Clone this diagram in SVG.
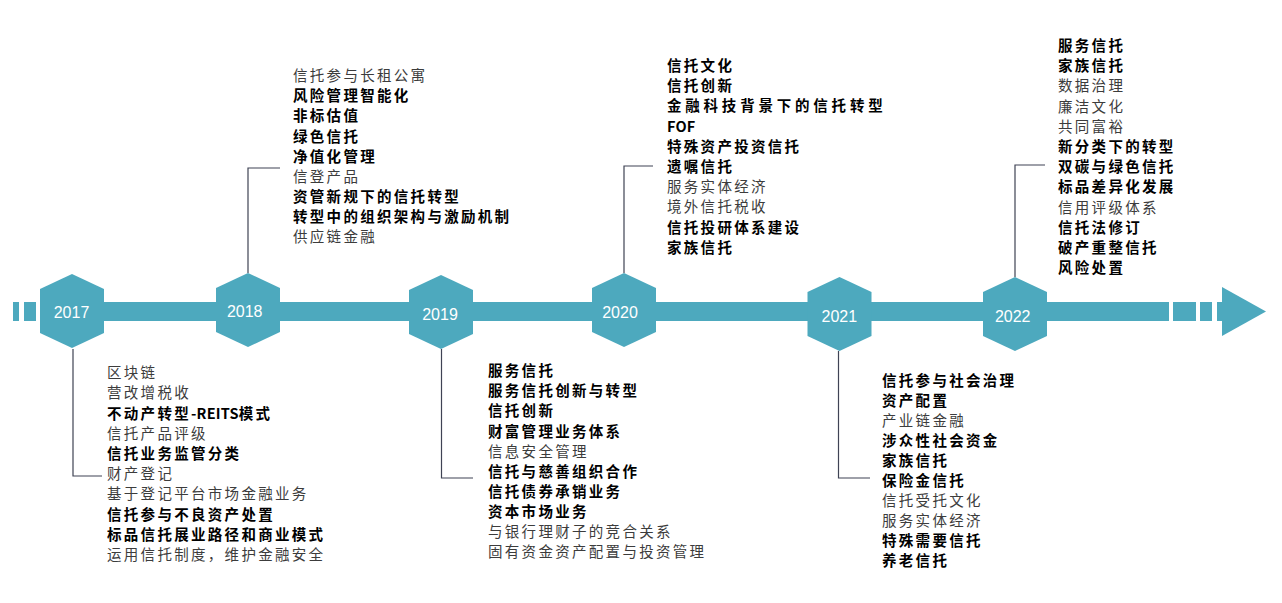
<svg xmlns="http://www.w3.org/2000/svg" width="1282" height="603" viewBox="0 0 1282 603">
<defs>
<style>
.bar{fill:#4da9be}
.hex{fill:#4da9be}
.yr{font-family:"Liberation Sans",Arial,sans-serif;font-size:16px;fill:#ffffff;text-anchor:middle}
.t{font-family:"Noto Sans CJK SC","Noto Sans",sans-serif;font-size:14.5px;letter-spacing:2.3px}
.n{fill:#3c3c3c;font-weight:400}
.b{fill:#000000;font-weight:700}
.lat{letter-spacing:0.2px}
.con{fill:none;stroke:#3f4354;stroke-width:1.2}
</style>
<polygon id="hexshape" points="0,0 32,15 32,59 0,74 -32,59 -32,15"/>
</defs>
<rect width="1282" height="603" fill="#ffffff"/>
<g id="timeline">
<rect class="bar" x="13" y="302" width="6" height="19"/>
<rect class="bar" x="24" y="302" width="12" height="19"/>
<rect class="bar" x="40" y="302" width="1129" height="19"/>
<rect class="bar" x="1173" y="302" width="23" height="19"/>
<rect class="bar" x="1200" y="302" width="12" height="19"/>
<rect class="bar" x="1217" y="302" width="7" height="19"/>
<polygon class="bar" points="1222,287 1266,311.5 1222,336"/>
</g>
<g id="connectors">
<polyline class="con" points="73,349 73,476 102,476"/>
<polyline class="con" points="248,273 248,168 280,168"/>
<polyline class="con" points="441.5,349 441.5,478 473,478"/>
<polyline class="con" points="624,273 624,166 653,166"/>
<polyline class="con" points="838.5,351 838.5,478 870,478"/>
<polyline class="con" points="1015,277 1015,165 1045,165"/>
</g>
<g id="node-2017">
<use href="#hexshape" class="hex" x="72" y="274"/>
<text class="yr" x="71.5" y="318.4">2017</text>
<text class="t" x="107" y="378.2">
<tspan class="n" x="107" dy="0">区块链</tspan>
<tspan class="n" x="107" dy="20.2">营改增税收</tspan>
<tspan class="b" x="107" dy="20.2">不动产转型<tspan class="lat">-REITS</tspan>模式</tspan>
<tspan class="n" x="107" dy="20.2">信托产品评级</tspan>
<tspan class="b" x="107" dy="20.2">信托业务监管分类</tspan>
<tspan class="n" x="107" dy="20.2">财产登记</tspan>
<tspan class="n" x="107" dy="20.2">基于登记平台市场金融业务</tspan>
<tspan class="b" x="107" dy="20.2">信托参与不良资产处置</tspan>
<tspan class="b" x="107" dy="20.2">标品信托展业路径和商业模式</tspan>
<tspan class="n" x="107" dy="20.2">运用信托制度，维护金融安全</tspan>
</text>
</g>
<g id="node-2018">
<use href="#hexshape" class="hex" x="248" y="273"/>
<text class="yr" x="244.7" y="317.4">2018</text>
<text class="t" x="293" y="81.2">
<tspan class="n" x="293" dy="0">信托参与长租公寓</tspan>
<tspan class="b" x="293" dy="20.1">风险管理智能化</tspan>
<tspan class="b" x="293" dy="20.1">非标估值</tspan>
<tspan class="b" x="293" dy="20.1">绿色信托</tspan>
<tspan class="b" x="293" dy="20.1">净值化管理</tspan>
<tspan class="n" x="293" dy="20.1">信登产品</tspan>
<tspan class="b" x="293" dy="20.1">资管新规下的信托转型</tspan>
<tspan class="b" x="293" dy="20.1">转型中的组织架构与激励机制</tspan>
<tspan class="n" x="293" dy="20.1">供应链金融</tspan>
</text>
</g>
<g id="node-2019">
<use href="#hexshape" class="hex" x="441" y="275"/>
<text class="yr" x="440" y="319.7">2019</text>
<text class="t" x="488" y="376.2">
<tspan class="b" x="488" dy="0">服务信托</tspan>
<tspan class="b" x="488" dy="20.1">服务信托创新与转型</tspan>
<tspan class="b" x="488" dy="20.1">信托创新</tspan>
<tspan class="b" x="488" dy="20.1">财富管理业务体系</tspan>
<tspan class="n" x="488" dy="20.1">信息安全管理</tspan>
<tspan class="b" x="488" dy="20.1">信托与慈善组织合作</tspan>
<tspan class="b" x="488" dy="20.1">信托债券承销业务</tspan>
<tspan class="b" x="488" dy="20.1">资本市场业务</tspan>
<tspan class="n" x="488" dy="20.1">与银行理财子的竞合关系</tspan>
<tspan class="n" x="488" dy="20.1">固有资金资产配置与投资管理</tspan>
</text>
</g>
<g id="node-2020">
<use href="#hexshape" class="hex" x="624" y="273"/>
<text class="yr" x="620" y="318">2020</text>
<text class="t" x="667" y="71">
<tspan class="b" x="667" dy="0">信托文化</tspan>
<tspan class="b" x="667" dy="20.2">信托创新</tspan>
<tspan class="b" x="667" dy="20.2" textLength="218" lengthAdjust="spacing">金融科技背景下的信托转型</tspan>
<tspan class="b lat" x="667" dy="20.2">FOF</tspan>
<tspan class="b" x="667" dy="20.2">特殊资产投资信托</tspan>
<tspan class="b" x="667" dy="20.2">遗嘱信托</tspan>
<tspan class="n" x="667" dy="20.2">服务实体经济</tspan>
<tspan class="n" x="667" dy="20.2">境外信托税收</tspan>
<tspan class="b" x="667" dy="20.2">信托投研体系建设</tspan>
<tspan class="b" x="667" dy="20.2">家族信托</tspan>
</text>
</g>
<g id="node-2021">
<use href="#hexshape" class="hex" x="839.5" y="277"/>
<text class="yr" x="839.3" y="321.7">2021</text>
<text class="t" x="882" y="385.5">
<tspan class="b" x="882" dy="0">信托参与社会治理</tspan>
<tspan class="b" x="882" dy="20">资产配置</tspan>
<tspan class="n" x="882" dy="20">产业链金融</tspan>
<tspan class="b" x="882" dy="20">涉众性社会资金</tspan>
<tspan class="b" x="882" dy="20">家族信托</tspan>
<tspan class="b" x="882" dy="20">保险金信托</tspan>
<tspan class="n" x="882" dy="20">信托受托文化</tspan>
<tspan class="n" x="882" dy="20">服务实体经济</tspan>
<tspan class="b" x="882" dy="20">特殊需要信托</tspan>
<tspan class="b" x="882" dy="20">养老信托</tspan>
</text>
</g>
<g id="node-2022">
<use href="#hexshape" class="hex" x="1015" y="277"/>
<text class="yr" x="1012.7" y="321.7">2022</text>
<text class="t" x="1058" y="51">
<tspan class="b" x="1058" dy="0">服务信托</tspan>
<tspan class="b" x="1058" dy="20.2">家族信托</tspan>
<tspan class="n" x="1058" dy="20.2">数据治理</tspan>
<tspan class="n" x="1058" dy="20.2">廉洁文化</tspan>
<tspan class="n" x="1058" dy="20.2">共同富裕</tspan>
<tspan class="b" x="1058" dy="20.2">新分类下的转型</tspan>
<tspan class="b" x="1058" dy="20.2">双碳与绿色信托</tspan>
<tspan class="b" x="1058" dy="20.2">标品差异化发展</tspan>
<tspan class="n" x="1058" dy="20.2">信用评级体系</tspan>
<tspan class="b" x="1058" dy="20.2">信托法修订</tspan>
<tspan class="b" x="1058" dy="20.2">破产重整信托</tspan>
<tspan class="b" x="1058" dy="20.2">风险处置</tspan>
</text>
</g>
</svg>
